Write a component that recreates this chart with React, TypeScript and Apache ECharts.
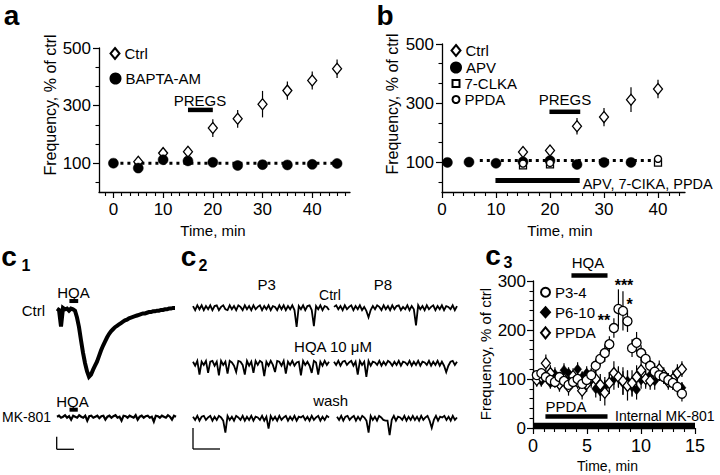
import React, { useEffect, useRef } from "react";
import * as echarts from "echarts";

const FONT = "Liberation Sans, Arial, Helvetica, sans-serif";

// ---------- Panel a ----------
const aCtrlTime = [5, 10, 15, 20, 25, 30, 35, 40, 45];
const aCtrlValue = [105, 135, 140, 222, 254, 305, 352, 387, 428];
const aCtrlErr = [0, 0, 0, 31, 31, 46, 32, 31, 32];
const aBaptaTime = [0, 5, 10, 15, 20, 25, 30, 35, 40, 45];
const aBaptaValue = [100, 83, 112, 108, 103, 92, 95, 94, 96, 99];
const aPregs = [15, 20];
const aPregsLevel = 285;
const aRefSpan = [0, 45];
const refLevel = 100;
const abXLabels = [0, 10, 20, 30, 40];
const abYLabels = [100, 300, 500];
const abYMinor = [33.3, 166.7, 233.3, 366.7, 433.3];
const aXMinor = [-1.67, 1.67, 3.33, 5, 6.67, 8.33, 11.67, 13.33, 15, 16.67, 18.33, 21.67, 23.33, 25, 26.67, 28.33, 31.67, 33.33, 35, 36.67, 38.33, 41.67, 43.33, 45, 46.67];

// ---------- Panel b ----------
const bCtrlTime = [15, 20, 25, 30, 35, 40];
const bCtrlValue = [135, 140, 222, 253, 312, 348];
const bCtrlErr = [6, 6, 28, 31, 42, 31];
const bApvTime = [1, 5, 10, 15, 20, 25, 30, 35];
const bApvValue = [100, 101, 97, 102, 106, 93, 100, 100];
const bClkaTime = [15, 20, 40];
const bClkaValue = [90, 93, 99];
const bPpdaTime = [15, 20, 40];
const bPpdaValue = [96, 98, 112];
const bPregs = [19.9, 25.6];
const bPregsLevel = 271;
const bDrug = [9.9, 25.5];
const bDrugLevel = 39;
const bRefSpan = [7, 40];
const bRefLevel = 106;
const bXMinor = [2, 4, 6, 8, 12, 14, 16, 18, 22, 24, 26, 28, 32, 34, 36, 38, 42, 44];

// ---------- Panel c3 ----------
const cTime = [0.35, 0.77, 1.19, 1.61, 2.03, 2.45, 2.87, 3.29, 3.71, 4.13, 4.55, 4.97, 5.39, 5.81, 6.23, 6.65, 7.07, 7.49, 7.91, 8.33, 8.75, 9.17, 9.59, 10.01, 10.43, 10.85, 11.27, 11.69, 12.11, 12.53, 12.95, 13.37, 13.79];
const cP34 = [108, 112, 104, 98, 94, 104, 96, 88, 94, 100, 90, 98, 108, 127, 141, 153, 171, 204, 243, 239, 218, 163, 174, 153, 141, 127, 115, 108, 104, 98, 92, 84, 70];
const cP34Err = [8, 10, 8, 8, 8, 10, 8, 8, 10, 10, 10, 12, 12, 14, 14, 18, 16, 20, 40, 40, 22, 18, 22, 16, 14, 12, 12, 12, 12, 14, 14, 16, 16];
const cP610 = [100, 96, 104, 92, 110, 88, 118, 112, 100, 120, 104, 112, 98, 80, 75, 84, 92, 100, 104, 92, 96, 84, 78, 98, 100, 108, 96, 112, 104, 96, 92, 86, 82];
const cP610Err = [10, 12, 10, 12, 14, 12, 14, 12, 12, 14, 12, 14, 16, 18, 20, 20, 22, 22, 20, 24, 22, 20, 20, 18, 16, 16, 18, 16, 14, 14, 14, 14, 12];
const cPpda = [98, 104, 132, 112, 96, 90, 100, 84, 106, 94, 76, 90, 104, 100, 88, 72, 92, 112, 104, 96, 86, 92, 104, 118, 100, 96, 112, 120, 108, 94, 100, 112, 120];
const cPpdaErr = [14, 16, 18, 16, 14, 16, 14, 18, 16, 14, 18, 16, 18, 20, 22, 26, 22, 24, 22, 28, 30, 26, 24, 22, 20, 18, 20, 18, 16, 16, 18, 18, 16];
const cHqa = [3.56, 6.9];
const cHqaLevel = 311;
const cPpdaBar = [1.15, 6.9];
const cPpdaLevel = 23.6;
const cMk = [0, 15];
const cMkLevel = 4.7;
const cXLabels = [0, 5, 10, 15];
const cXMinor = [1, 2, 3, 4, 6, 7, 8, 9, 11, 12, 13, 14];
const cYLabels = [0, 100, 200, 300];
const cYMinor = [20, 40, 60, 80, 120, 140, 160, 180, 220, 240, 260, 280];

// ---------- Traces (c1, c2), sample values ----------
const c1Ctrl = [1, -1, -25, 2, 0, 1, -2, 1, 0, -2, -12, -26, -45, -63, -78, -90, -98, -95, -88, -82, -76, -68, -60, -53, -47, -41, -36, -32, -29, -26, -24, -22, -20, -18, -16, -15, -13, -12, -11, -10, -9, -8, -7, -6, -6, -5, -4, -4, -3, -3, -2, -2, -1, -1, 0, 0, 1, 1, 2, 2];
const c1Hqa = [6.2, 10.6];
const c1HqaLevel = 12;
const c1Mk = [0, 1, -1, 0, 1.5, -1, 0.5, -3, 1, 0, -1, 1.5, 0, -1, 1, -4, 0.5, 1, -1, 0, 1, -1.5, 0.5, 1, -3, 0, 1, -1, 0.5, 1.5, -1, 0, -4, 1, 0.5, -1, 1, 0, -1, 1.5, -3, 0, 1, -1, 0.5, 1, -1, 0, -5, 1, 0.5, -1, 1, 0, -1, 1.5, 0, -3, 1, 0];
const c1MkHqa = [6.2, 10.3];
const c1MkHqaLevel = 7;
const c2r1a = [2, -3, 3, -2, 3, -3, 2, -2, 3, -3, 2, 3, -3, 1, 3, -2, -3, 3, -2, 2, -3, 3, 1, -3, 3, -2, 2, -3, 3, -2, 1, 3, -3, 2, -2, 3, -3, 2, 1, -3, 3, -2, 3, -3, 2, -2, 3, -3, -24, 2, -2, 3, -3, 2, 3, -3, -23, 2, -2, 3, -3, 2, 1, -3];
const c2r1b = [1, 3, -2, 2, -3, 3, -2, 1, 3, -3, 2, -2, 3, -3, 1, -4, -12, -3, 2, -2, 3, 1, -3, 3, -2, 2, -3, 3, -2, 2, 3, -3, 1, -2, 3, -3, 2, -2, -22, 3, -2, 2, -3, 3, -2, 1, 3, -3, 2, -2, 3, -3, 2, 1, -2, 3, -3, 2];
const c2r2a = [2, -3, 3, -14, 2, -2, 3, -12, 2, 3, -3, 2, -15, 3, -2, 2, -13, 3, 1, -3, -11, 3, 2, -2, -14, 3, -3, 2, -12, 3, -2, 3, 1, -16, 2, -3, 3, -2, -11, 3, 2, -3, 3, -13, 2, -2, 3, -3, 1, 2, -15, 3, -2, 2, -3, -12, 3, 1, -14, 2, -3, 3, -2, 2];
const c2r2b = [2, -2, 3, -3, 2, 3, -2, 1, 3, -3, 2, -14, 3, -2, 2, -17, 3, -3, 2, 1, -2, 3, -3, 2, -2, 3, 1, -3, 2, -2, 3, -3, 2, 1, -2, 3, -3, 2, -2, 3, -3, 2, 1, -2, 3, -3, 2, -2, 3, -3, 2, -3, -11, -3, 2, 3, -2, 2];
const c2r3a = [2, -2, 3, -3, 2, 3, -2, 1, 3, -3, 2, -2, 3, 1, -3, -18, 3, -2, 2, -3, 3, 1, -2, 3, -3, 2, -2, 3, -3, 2, 1, -2, 3, -3, 2, -13, 3, -2, 2, -3, 3, -2, 1, 3, -3, 2, -2, 3, -3, 2, 1, 3, -2, 2, -3, 3, -2, 1, 3, -3, 2, -2, 3, 1];
const c2r3b = [2, -2, 3, -3, 2, 3, -2, 1, 3, -3, 2, -2, 3, 1, -3, -18, 3, -2, 2, -3, 3, 1, -2, -3, -3, -21, -2, 3, -3, 2, 1, -2, 3, -3, 2, -2, 3, -2, 2, -3, 3, -2, 1, 3, -3, -12, -2, 3, -3, 2, 1, 3, -2, 2, -3, 3, -2, 1];

const LABELS: Record<string, string> = {
  aCtrl: "Ctrl", aBapta: "BAPTA-AM",
  bCtrl: "Ctrl", bApv: "APV", bClka: "7-CLKA", bPpda: "PPDA",
  cP34: "P3-4", cP610: "P6-10", cPpda: "PPDA",
};

const BLACK = "#000";
const txt = (fs: number, extra: any = {}) => ({ fontSize: fs, fontFamily: FONT, color: BLACK, ...extra });

function mainAxis(kind: "x" | "y", gridIndex: number, min: number, max: number, labels: number[], margin: number, fs: number) {
  return {
    type: "value", gridIndex, min, max,
    position: kind === "x" ? "bottom" : "left",
    axisLine: { show: true, onZero: false, lineStyle: { color: BLACK, width: 1.3 } },
    axisTick: { show: true, inside: false, length: 6, customValues: labels, lineStyle: { color: BLACK, width: 1.2 } },
    axisLabel: { show: true, customValues: labels, margin, ...txt(fs) },
    splitLine: { show: false },
  };
}
function minorAxis(kind: "x" | "y", gridIndex: number, min: number, max: number, ticks: number[], len: number) {
  return {
    type: "value", gridIndex, min, max,
    position: kind === "x" ? "bottom" : "left",
    axisLine: { show: false, onZero: false },
    axisTick: { show: true, inside: false, length: len, customValues: ticks, lineStyle: { color: BLACK, width: 1.1 } },
    axisLabel: { show: false },
    splitLine: { show: false },
  };
}
function hiddenAxis(gridIndex: number, min: number, max: number) {
  return { type: "value", gridIndex, min, max, show: false, splitLine: { show: false } };
}

function errSeries(ai: number, t: number[], v: number[], e: number[]) {
  return {
    type: "custom", xAxisIndex: ai, yAxisIndex: ai, z: 3, silent: true, clip: false,
    data: t.map((x, i) => [x, v[i], e[i]]),
    encode: { x: 0, y: 1 },
    renderItem: (_p: any, api: any) => {
      const x = api.value(0), y = api.value(1), er = api.value(2);
      if (!er) return { type: "group", children: [] };
      const p1 = api.coord([x, y + er]);
      const p2 = api.coord([x, y - er]);
      return { type: "line", shape: { x1: p1[0], y1: p1[1], x2: p2[0], y2: p2[1] }, style: { stroke: BLACK, lineWidth: 1.2 } };
    },
  };
}
function scatter(name: string, ai: number, t: number[], v: number[], symbol: string, size: any, filled: boolean) {
  return {
    type: "scatter", name, xAxisIndex: ai, yAxisIndex: ai, z: 5, silent: true,
    symbol, symbolSize: size,
    data: t.map((x, i) => [x, v[i]]),
    itemStyle: filled
      ? { color: BLACK, borderColor: BLACK, borderWidth: 0.5, opacity: 1 }
      : { color: "#fff", borderColor: BLACK, borderWidth: 1.3, opacity: 1 },
  };
}
function segment(ai: number, span: number[], level: number, width: number, dash: any = "solid", z = 2) {
  return {
    type: "line", xAxisIndex: ai, yAxisIndex: ai, symbol: "none", silent: true, clip: false, z,
    data: [[span[0], level], [span[1], level]],
    lineStyle: { color: BLACK, width, type: dash, cap: "butt" },
  };
}
function trace(ai: number, vals: number[], width: number) {
  return {
    type: "line", xAxisIndex: ai, yAxisIndex: ai, symbol: "none", silent: true, clip: false,
    data: vals.map((v, i) => [i, v]),
    lineStyle: { color: BLACK, width, join: "miter" },
  };
}
function legendItem(name: string, left: number, cy: number, w: number, h: number) {
  return {
    data: [name], left, top: cy - 8, orient: "vertical", padding: 0,
    itemWidth: w, itemHeight: h, itemGap: 0, selectedMode: false,
    textStyle: txt(15), formatter: (n: string) => LABELS[n],
  };
}
function gtext(text: string, x: number, y: number, fs: number, align = "center", extra: any = {}) {
  return { type: "text", x, y, silent: true, style: { text, fill: BLACK, font: `${extra.weight || "normal"} ${fs}px ${FONT}`, align, verticalAlign: "middle" }, ...(extra.rotation ? { rotation: extra.rotation } : {}) };
}
function gline(x1: number, y1: number, x2: number, y2: number) {
  return { type: "line", silent: true, shape: { x1, y1, x2, y2 }, style: { stroke: BLACK, lineWidth: 1.3 } };
}

// c2 segment geometry (pixel layout)
const c2Rows = [307.7, 363.3, 418.3];
const c2Data = [[c2r1a, c2r1b], [c2r2a, c2r2b], [c2r3a, c2r3b]];
const c2SegX = [[[193, 136], [334, 123]], [[193, 136], [334, 123]], [[193, 136], [337, 120]]];

export default function App() {
  const ref = useRef<HTMLDivElement>(null);
  useEffect(() => {
    if (!ref.current) return;
    const chart = echarts.init(ref.current, null, { renderer: "svg" });

    const grid: any[] = [
      { left: 99, top: 48, width: 251, height: 144 },   // 0 a
      { left: 442, top: 44, width: 243, height: 148 },  // 1 b
      { left: 533, top: 281, width: 162, height: 147 }, // 2 c3
      { left: 57, top: 285, width: 118, height: 100 },  // 3 c1 ctrl
      { left: 57, top: 400, width: 119, height: 25 },   // 4 c1 mk
    ];
    const xAxis: any[] = [
      mainAxis("x", 0, -2.9, 47.6, abXLabels, 9, 17),
      minorAxis("x", 0, -2.9, 47.6, aXMinor, 4),
      mainAxis("x", 1, 0, 45, abXLabels, 9, 17),
      minorAxis("x", 1, 0, 45, bXMinor, 4),
      mainAxis("x", 2, 0, 15, cXLabels, 9, 18),
      minorAxis("x", 2, 0, 15, cXMinor, 4),
      hiddenAxis(3, 0, c1Ctrl.length - 1),
      hiddenAxis(4, 0, c1Mk.length - 1),
    ];
    const yAxis: any[] = [
      mainAxis("y", 0, 0, 500, abYLabels, 8, 17),
      minorAxis("y", 0, 0, 500, abYMinor, 3.5),
      mainAxis("y", 1, 0, 500, abYLabels, 8, 17),
      minorAxis("y", 1, 0, 500, abYMinor, 3.5),
      mainAxis("y", 2, 0, 300, cYLabels, 7, 17),
      minorAxis("y", 2, 0, 300, cYMinor, 3.5),
      hiddenAxis(3, -110, 35.3),
      hiddenAxis(4, -8.3, 16.7),
    ];
    const series: any[] = [
      // a
      segment(0, aRefSpan, refLevel, 3, [3, 4], 1),
      segment(0, aPregs, aPregsLevel, 4.5),
      errSeries(0, aCtrlTime, aCtrlValue, aCtrlErr),
      scatter("aCtrl", 0, aCtrlTime, aCtrlValue, "diamond", [9, 11], false),
      scatter("aBapta", 0, aBaptaTime, aBaptaValue, "circle", 10, true),
      // b
      segment(2, bRefSpan, bRefLevel, 3, [3, 4], 1),
      segment(2, bPregs, bPregsLevel, 4.5),
      segment(2, bDrug, bDrugLevel, 5),
      errSeries(2, bCtrlTime, bCtrlValue, bCtrlErr),
      scatter("bApv", 2, bApvTime, bApvValue, "circle", 10, true),
      scatter("bClka", 2, bClkaTime, bClkaValue, "rect", 7, false),
      scatter("bPpda", 2, bPpdaTime, bPpdaValue, "circle", 7, false),
      scatter("bCtrl", 2, bCtrlTime, bCtrlValue, "diamond", [9, 11], false),
      // c3
      segment(4, cHqa, cHqaLevel, 4.5),
      segment(4, cPpdaBar, cPpdaLevel, 4.5),
      segment(4, cMk, cMkLevel, 6, "solid", 6),
      errSeries(4, cTime, cP610, cP610Err),
      errSeries(4, cTime, cPpda, cPpdaErr),
      errSeries(4, cTime, cP34, cP34Err),
      scatter("cP610", 4, cTime, cP610, "diamond", [8, 10], true),
      scatter("cPpda", 4, cTime, cPpda, "diamond", [9, 11], false),
      scatter("cP34", 4, cTime, cP34, "circle", 9, false),
      // c1
      trace(6, c1Ctrl, 4),
      segment(6, c1Hqa, c1HqaLevel, 4),
      trace(7, c1Mk, 2.2),
      segment(7, c1MkHqa, c1MkHqaLevel, 4),
    ];
    // c2 traces (0.8 px per unit; baseline 10 px below grid top)
    c2Rows.forEach((base, r) => {
      c2Data[r].forEach((vals, s) => {
        const gi = grid.length;
        const [left, width] = c2SegX[r][s];
        grid.push({ left, width, top: base - 10, height: 35 });
        xAxis.push(hiddenAxis(gi, 0, vals.length - 1));
        yAxis.push(hiddenAxis(gi, -31.25, 12.5));
        series.push(trace(xAxis.length - 1, vals, 1.8));
      });
    });

    const legend = [
      legendItem("aCtrl", 109.5, 54, 9, 11),
      legendItem("aBapta", 109.5, 79, 10, 10),
      legendItem("bCtrl", 450.5, 51, 9, 11),
      legendItem("bApv", 450, 68, 10, 10),
      legendItem("bClka", 451.5, 84, 7, 7),
      legendItem("bPpda", 451.5, 100, 7, 7),
      legendItem("cP34", 540, 292.7, 9, 9),
      legendItem("cP610", 540, 312.7, 9, 10),
      legendItem("cPpda", 540, 333.3, 9, 11),
    ];

    const graphic: any[] = [
      // panel letters
      gtext("a", 11.5, 15, 28, "center", { weight: 900 }),
      gtext("b", 385, 15, 28, "center", { weight: 900 }),
      gtext("c", 9, 256, 28, "center", { weight: 900 }),
      gtext("1", 26, 265, 16, "center", { weight: 900 }),
      gtext("c", 188.5, 256, 28, "center", { weight: 900 }),
      gtext("2", 203, 265, 16, "center", { weight: 900 }),
      gtext("c", 493, 255, 28, "center", { weight: 900 }),
      gtext("3", 508, 262, 16, "center", { weight: 900 }),
      // axis titles
      gtext("Time, min", 213, 230, 15),
      gtext("Frequency, % of ctrl", 50, 105, 16, "center", { rotation: Math.PI / 2 }),
      gtext("Time, min", 560, 230, 15),
      gtext("Frequency, % of ctrl", 392, 104, 16, "center", { rotation: Math.PI / 2 }),
      gtext("Time, min", 607.5, 466, 14),
      gtext("Frequency, % of ctrl", 485, 354, 15, "center", { rotation: Math.PI / 2 }),
      // annotations a, b
      gtext("PREGS", 200, 100, 15),
      gtext("PREGS", 565, 99, 15),
      gtext("APV, 7-CIKA, PPDA", 582.7, 184, 14.5, "left"),
      // c3
      gtext("HQA", 588, 262, 15),
      gtext("PPDA", 566, 406.7, 15),
      gtext("Internal MK-801", 615, 416, 14, "left"),
      gtext("**", 604, 320, 16, "center", { weight: "bold" }),
      gtext("***", 624, 285, 16, "center", { weight: "bold" }),
      gtext("*", 629.5, 304, 16, "center", { weight: "bold" }),
      // c1
      gtext("HQA", 73.5, 292, 15),
      gtext("Ctrl", 45, 310, 15, "right"),
      gtext("HQA", 72.5, 401, 15),
      gtext("MK-801", 51, 417, 14, "right"),
      gline(56.7, 436.7, 56.7, 449.3),
      gline(56.7, 449.3, 74, 449.3),
      // c2
      gtext("P3", 266.7, 284.3, 15),
      gtext("P8", 383, 284.3, 15),
      gtext("Ctrl", 330, 295, 14),
      gtext("HQA 10 μM", 333, 346.7, 15),
      gtext("wash", 330.7, 400, 15),
      gline(193, 428, 193, 449),
      gline(193, 449, 220, 449),
    ];

    chart.setOption({
      animation: false,
      backgroundColor: "#fff",
      textStyle: { fontFamily: FONT },
      grid, xAxis, yAxis, series, legend, graphic,
    });
    return () => chart.dispose();
  }, []);
  return <div ref={ref} style={{ position: "fixed", left: 0, top: 0, width: 720, height: 475, background: "#fff" }} />;
}
